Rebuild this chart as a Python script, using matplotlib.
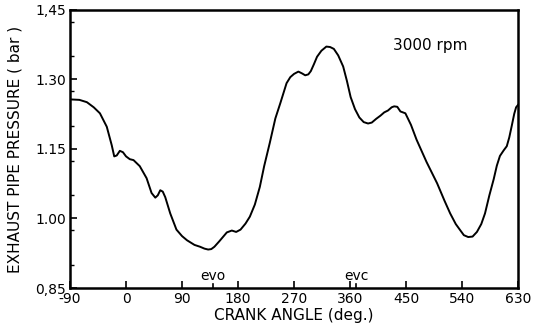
import matplotlib.pyplot as plt
from matplotlib.ticker import MultipleLocator

plt.rcParams['font.family'] = ['DejaVu Sans']

# crank angle (deg) and exhaust pipe pressure (bar)
angle = [-90, -75, -63, -52, -42, -31, -23, -19, -15, -10, -5, 0, 6, 12, 22,
         33, 41, 47, 51, 55, 59, 63, 71, 81, 90, 98, 110, 119, 126, 132, 137,
         142, 150, 162, 170, 177, 184, 192, 199, 207, 215, 222, 231, 240, 248,
         258, 264, 270, 277, 283, 288, 293, 297, 302, 307, 314, 322, 328, 334,
         341, 349, 355, 361, 368, 375, 382, 389, 395, 402, 409, 415, 421, 427,
         431, 436, 441, 449, 458, 467, 483, 500, 512, 521, 530, 537, 543, 550,
         557, 564, 571, 577, 584, 591, 596, 601, 607, 612, 616, 620, 624, 627,
         630]
pressure = [1.257, 1.256, 1.251, 1.240, 1.227, 1.198, 1.158, 1.134, 1.136,
            1.146, 1.143, 1.134, 1.128, 1.126, 1.113, 1.087, 1.055, 1.045,
            1.050, 1.061, 1.058, 1.046, 1.011, 0.976, 0.962, 0.953, 0.943,
            0.939, 0.935, 0.933, 0.934, 0.939, 0.951, 0.970, 0.974, 0.971,
            0.976, 0.989, 1.004, 1.030, 1.068, 1.113, 1.163, 1.216, 1.249,
            1.292, 1.305, 1.312, 1.317, 1.313, 1.309, 1.311, 1.318, 1.333,
            1.349, 1.362, 1.371, 1.370, 1.366, 1.352, 1.328, 1.297, 1.262,
            1.236, 1.218, 1.208, 1.205, 1.207, 1.215, 1.222, 1.229, 1.233,
            1.240, 1.242, 1.241, 1.231, 1.227, 1.202, 1.170, 1.122, 1.076,
            1.038, 1.011, 0.988, 0.975, 0.964, 0.960, 0.961, 0.971, 0.988,
            1.011, 1.050, 1.085, 1.114, 1.135, 1.147, 1.156, 1.175, 1.200,
            1.226, 1.240, 1.245]

xticks = [-90, 0, 90, 180, 270, 360, 450, 540, 630]
yticks = [0.85, 1.00, 1.15, 1.30, 1.45]
ytick_labels = ['0,85', '1.00', '1.15', '1.30', '1,45']
valve_events = {'evo': 140, 'evc': 370}

fig = plt.figure(figsize=(5.39, 3.32), dpi=100)
ax = fig.add_axes([0.130, 0.1325, 0.831, 0.8375])

ax.plot(angle, pressure, color='black', linewidth=1.4)

ax.set_xlim(-90, 630)
ax.set_ylim(0.85, 1.45)
ax.set_xticks(xticks)
ax.set_xticklabels([str(t) for t in xticks])
ax.set_yticks(yticks)
ax.set_yticklabels(ytick_labels)
ax.yaxis.set_minor_locator(MultipleLocator(0.075))
ax.tick_params(direction='in', length=5, width=1.2, labelsize=10, pad=3)
ax.tick_params(which='minor', direction='in', length=3, width=1.0)
for s in ax.spines.values():
    s.set_linewidth(1.8)

for name, pos in valve_events.items():
    ax.plot([pos, pos], [0.85, 0.858], color='black', linewidth=1.2)
    ax.text(pos, 0.861, name, ha='center', va='bottom', fontsize=10)

ax.text(489, 1.374, '3000 rpm', ha='center', va='center', fontsize=11)

ax.set_xlabel('CRANK ANGLE (deg.)', fontsize=11, labelpad=1)
ax.set_ylabel('EXHAUST PIPE PRESSURE ( bar )', fontsize=11, labelpad=9)

fig.savefig('out.png', dpi=100)
